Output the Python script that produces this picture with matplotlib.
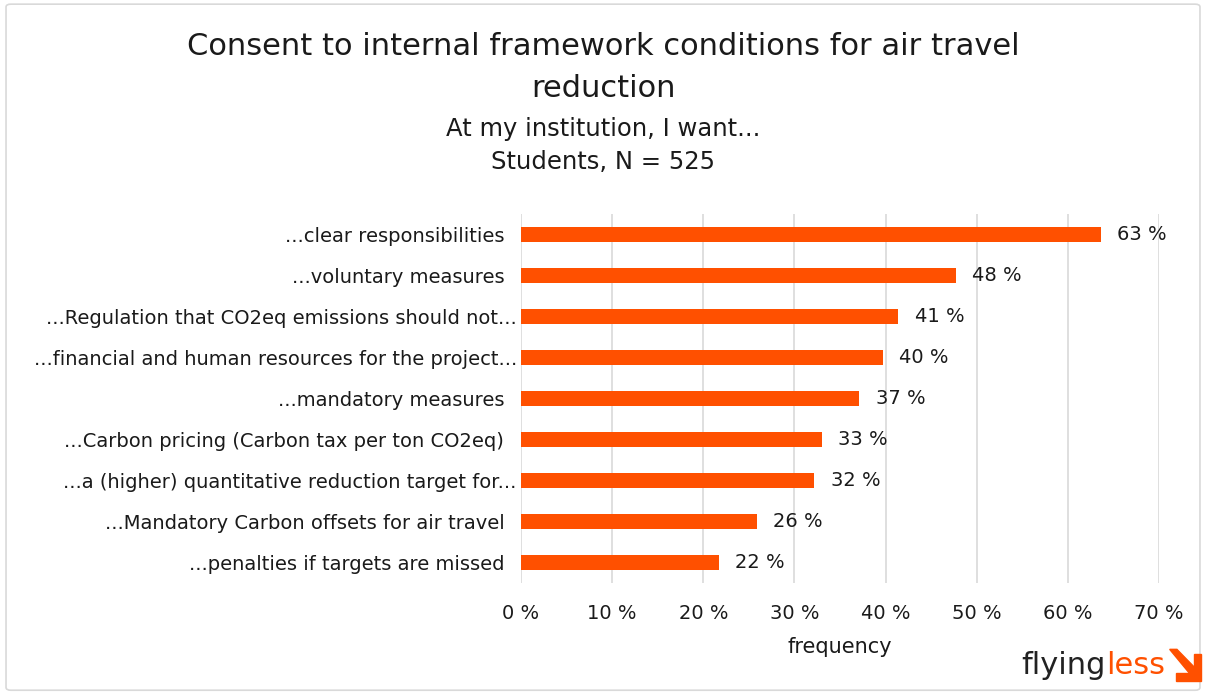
import matplotlib
matplotlib.use("Agg")
import matplotlib.pyplot as plt
from matplotlib.patches import FancyBboxPatch, Polygon
from matplotlib.ticker import FuncFormatter

categories = [
    "...clear responsibilities  ",
    "...voluntary measures  ",
    "...Regulation that CO2eq emissions should not...",
    "...financial and human resources for the project...",
    "...mandatory measures  ",
    "...Carbon pricing (Carbon tax per ton CO2eq)  ",
    "...a (higher) quantitative reduction target for...",
    "...Mandatory Carbon offsets for air travel  ",
    "...penalties if targets are missed  ",
]
values = [63.6, 47.7, 41.4, 39.7, 37.1, 33.0, 32.2, 25.9, 21.7]
labels = ["63 %", "48 %", "41 %", "40 %", "37 %", "33 %", "32 %", "26 %", "22 %"]
xticks = [0, 10, 20, 30, 40, 50, 60, 70]

plt.rcParams['font.family'] = ['DejaVu Sans']
BAR = "#FF5000"
TXT = "#1a1a1a"

fig = plt.figure(figsize=(12.06, 6.93), dpi=100)
fig.patches.append(FancyBboxPatch((0.005, 0.004), 0.99, 0.99, boxstyle="round,pad=0,rounding_size=0.004",
                                  transform=fig.transFigure, fill=False, edgecolor="#d9d9d9", lw=1.2))

ax = fig.add_axes([0.432, 0.159, 0.529, 0.532])
y = list(range(len(categories)))
ax.barh(y, values, height=0.36, color=BAR, zorder=3)
for yi, v, lab in zip(y, values, labels):
    ax.text(v + 1.8, yi, lab, va="center", ha="left", fontsize=14, color=TXT)
ax.set_yticks(y)
ax.set_yticklabels(categories, fontsize=14, color=TXT)
ax.set_ylim(len(categories) - 0.5, -0.5)
ax.set_xlim(0, 70)
ax.set_xticks(xticks)
ax.xaxis.set_major_formatter(FuncFormatter(lambda v, p: f"{int(v)} %"))
ax.tick_params(axis="x", labelsize=14, colors=TXT, length=0, pad=15)
ax.tick_params(axis="y", length=0, pad=3)
ax.grid(axis="x", color="#d9d9d9", lw=1.2, zorder=0)
for s in ax.spines.values():
    s.set_visible(False)
ax.set_xlabel("frequency", fontsize=15, color=TXT, labelpad=10)

fig.text(0.5, 0.933, "Consent to internal framework conditions for air travel", ha="center", va="center",
         fontsize=22, color=TXT)
fig.text(0.5, 0.872, "reduction", ha="center", va="center", fontsize=22, color=TXT)
fig.text(0.5, 0.814, "At my institution, I want...", ha="center", va="center", fontsize=17.5, color=TXT)
fig.text(0.5, 0.766, "Students, N = 525", ha="center", va="center", fontsize=17.5, color=TXT)

# logo
t1 = fig.text(0.847, 0.040, "flying", ha="left", va="center", fontsize=22, color="#222222")
fig.canvas.draw()
bb = t1.get_window_extent().transformed(fig.transFigure.inverted())
t2 = fig.text(bb.x1, 0.040, "less", ha="left", va="center", fontsize=22, color=BAR)
fig.canvas.draw()
bb2 = t2.get_window_extent().transformed(fig.transFigure.inverted())
x0 = bb2.x1 + 0.004
W, H = 0.026, 0.045
yb = 0.018
w = 0.006
hw = w * 1.206 / 0.693
# L-shaped head at bottom-right
fig.patches.append(Polygon([[x0 + W, yb + H * 0.85], [x0 + W, yb], [x0 + W * 0.2, yb],
                            [x0 + W * 0.2, yb + hw], [x0 + W - w, yb + hw], [x0 + W - w, yb + H * 0.85]],
                           closed=True, transform=fig.transFigure, color=BAR))
# diagonal stroke
fig.patches.append(Polygon([[x0, yb + H], [x0 + w, yb + H], [x0 + W - w * 0.2, yb + hw * 1.1],
                            [x0 + W - w * 1.2, yb + hw * 0.9 - 0.004]],
                           closed=True, transform=fig.transFigure, color=BAR))

fig.savefig("out.png", dpi=100)
